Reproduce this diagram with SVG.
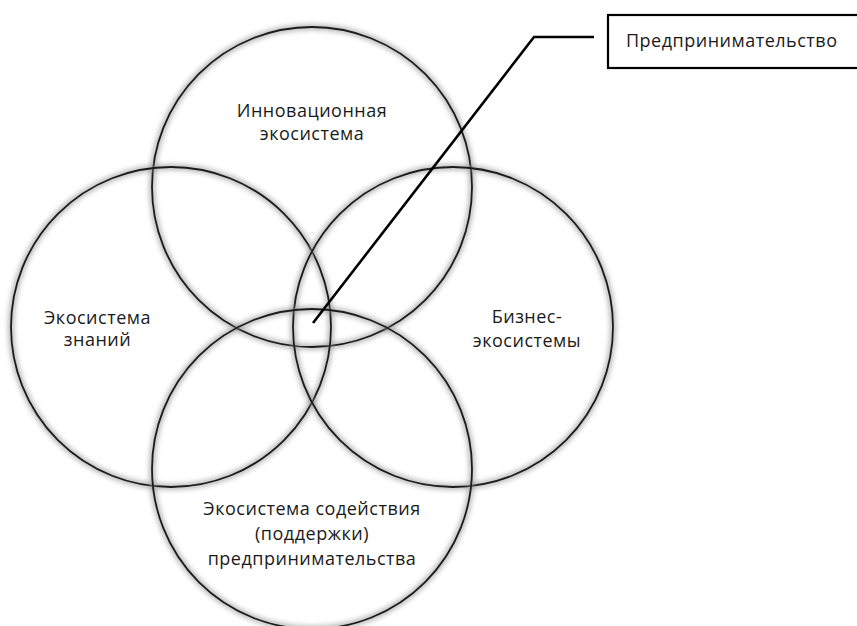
<svg xmlns="http://www.w3.org/2000/svg" width="857" height="626" viewBox="0 0 857 626">
<defs>
<filter id="soft" x="-10%" y="-10%" width="120%" height="120%">
<feGaussianBlur stdDeviation="2.4"/>
</filter>
<style>
.halo{fill:none;stroke:#8a8a8a;stroke-width:6;filter:url(#soft);opacity:0.6}
.ring{fill:none;stroke:#1c1c1c;stroke-width:1.8}
.lbl{font-family:"Open Sans","Noto Sans","DejaVu Sans",sans-serif;font-size:18px;letter-spacing:0.5px;fill:#1a1a1a;text-anchor:middle}
.conn{fill:none;stroke:#000;stroke-width:2.6;stroke-linejoin:miter}
</style>
</defs>
<rect width="857" height="626" fill="#fff"/>
<g id="node-innovation">
<circle class="halo" cx="312" cy="187" r="160"/>
<circle class="ring" cx="312" cy="187" r="160"/>
<text class="lbl" x="312" y="117">Инновационная</text>
<text class="lbl" x="312" y="139.5">экосистема</text>
</g>
<g id="node-knowledge">
<circle class="halo" cx="171" cy="327" r="160"/>
<circle class="ring" cx="171" cy="327" r="160"/>
<text class="lbl" x="97.5" y="323.5">Экосистема</text>
<text class="lbl" x="97.5" y="346">знаний</text>
</g>
<g id="node-business">
<circle class="halo" cx="453" cy="327" r="160"/>
<circle class="ring" cx="453" cy="327" r="160"/>
<text class="lbl" x="527" y="323">Бизнес-</text>
<text class="lbl" x="527" y="347">экосистемы</text>
</g>
<g id="node-support">
<circle class="halo" cx="312" cy="469" r="160"/>
<circle class="ring" cx="312" cy="469" r="160"/>
<text class="lbl" x="312" y="515">Экосистема содействия</text>
<text class="lbl" x="312" y="540">(поддержки)</text>
<text class="lbl" x="312" y="565">предпринимательства</text>
</g>
<g id="connectors">
<polyline class="conn" points="313,323 534,37 594,37"/>
</g>
<g id="node-entrepreneurship">
<rect x="608" y="15" width="260" height="53" fill="#fff" stroke="#000" stroke-width="2.2"/>
<text class="lbl" x="626" y="47" style="text-anchor:start">Предпринимательство</text>
</g>
</svg>
